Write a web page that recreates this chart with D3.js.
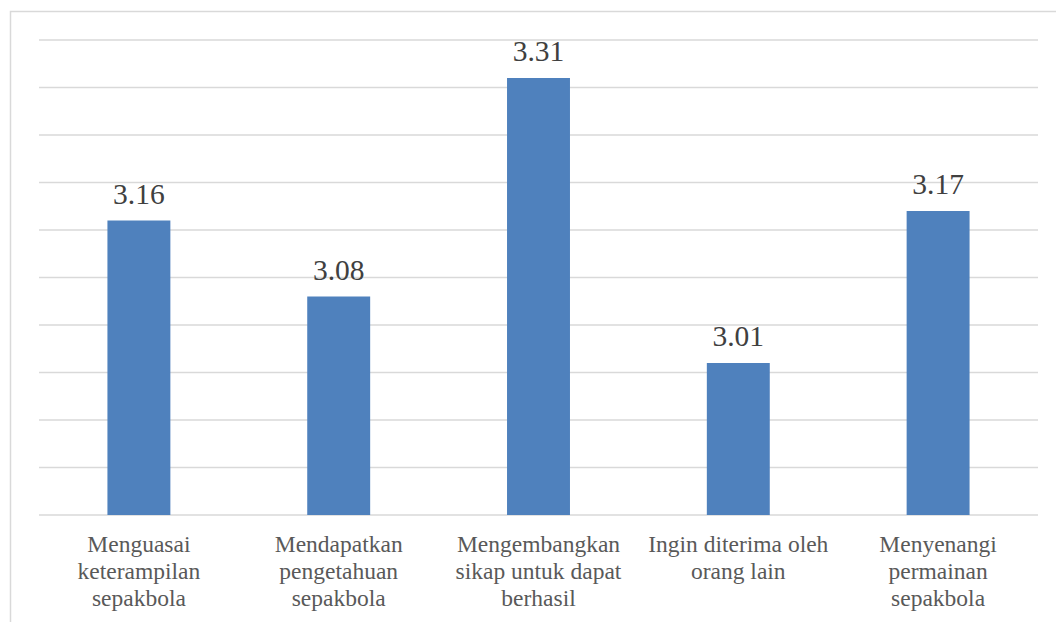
<!DOCTYPE html>
<html>
<head>
    <meta charset="utf-8">
    <style>
        body { margin: 0; background: #fff; }
        svg { display: block; }
    </style>
</head>
<body>
    <svg width="1056" height="622"></svg>

<script src="https://d3js.org/d3.v7.min.js"></script>
<script>
    // chart values
    let categories = [
        "Menguasai|keterampilan|sepakbola",
        "Mendapatkan|pengetahuan|sepakbola",
        "Mengembangkan|sikap untuk dapat|berhasil",
        "Ingin diterima oleh|orang lain",
        "Menyenangi|permainan|sepakbola"
    ]
    let values = [3.16, 3.08, 3.31, 3.01, 3.17]
    let gridTicks = [2.85, 2.90, 2.95, 3.00, 3.05, 3.10, 3.15, 3.20, 3.25, 3.30, 3.35]

    let serif = "'Liberation Serif', serif"

    let svg = d3.select("svg")

    // outer chart border (only top/left visible in the crop)
    svg.append("rect")
        .attr("x", 10.5)
        .attr("y", 11.5)
        .attr("width", 1200)
        .attr("height", 800)
        .style("fill", "none")
        .style("stroke", "#d9d9d9")
        .style("stroke-width", 1.5)

    let x = d3.scaleBand()
        .domain(categories)
        .range([39, 1038])
        .paddingInner(0.685)
        .paddingOuter(0.3425)

    let y = d3.scaleLinear()
        .domain([2.85, 3.35])
        .range([515, 40])

    // gridlines
    svg.selectAll(".grid")
        .data(gridTicks)
        .join("line")
        .attr("x1", 39)
        .attr("x2", 1038)
        .attr("y1", d => y(d))
        .attr("y2", d => y(d))
        .style("stroke", "#d9d9d9")
        .style("stroke-width", 1.5)

    // bars
    svg.selectAll(".bar")
        .data(values)
        .join("rect")
        .attr("x", (d, i) => x(categories[i]))
        .attr("width", x.bandwidth())
        .attr("y", d => y(d))
        .attr("height", d => y(2.85) - y(d))
        .style("fill", "#4f81bd")

    // data labels
    svg.selectAll(".val")
        .data(values)
        .join("text")
        .attr("x", (d, i) => x(categories[i]) + x.bandwidth() / 2)
        .attr("y", d => y(d) - 17)
        .attr("text-anchor", "middle")
        .style("font-family", serif)
        .style("font-size", "29.5px")
        .style("fill", "#404040")
        .text(d => d.toFixed(2))

    // category labels
    let labels = svg.selectAll(".cat")
        .data(categories)
        .join("text")
        .attr("text-anchor", "middle")
        .style("font-family", serif)
        .style("font-size", "23.5px")
        .style("fill", "#595959")

    labels.selectAll("tspan")
        .data(d => d.split("|").map(t => ({ t, key: d })))
        .join("tspan")
        .attr("x", d => x(d.key) + x.bandwidth() / 2)
        .attr("y", (d, i) => 552 + i * 26.8)
        .text(d => d.t)
</script>
</body>
</html>
